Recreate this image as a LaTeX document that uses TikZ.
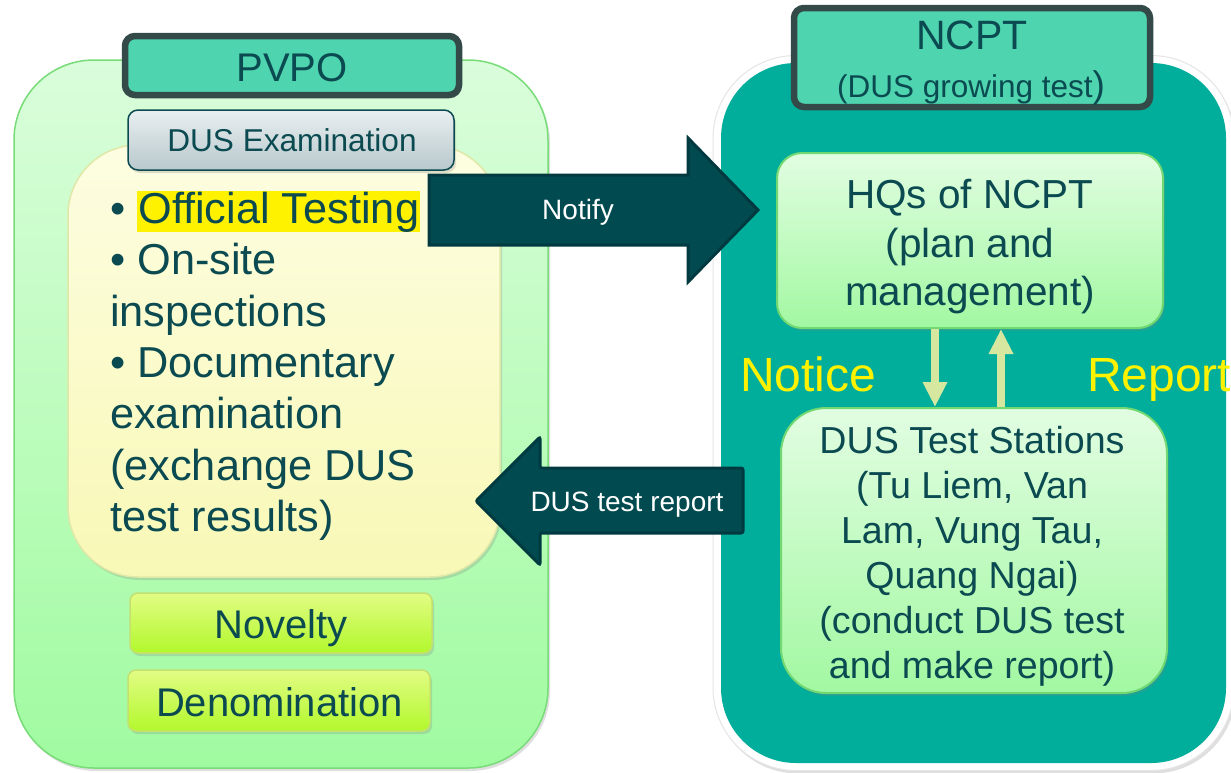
\documentclass[tikz,border=0pt]{standalone}
\usepackage{fontspec}
\setmainfont{Liberation Sans}
\usetikzlibrary{arrows.meta,shadows}
\definecolor{txt}{HTML}{0A4A50}
\definecolor{ttl}{HTML}{4ED4AE}
\definecolor{ttlb}{HTML}{334A48}
\definecolor{teal}{HTML}{00AE9B}
\definecolor{blk}{HTML}{004A50}
\definecolor{blkb}{HTML}{003A40}
\definecolor{noteclr}{HTML}{D6E8A0}
\newcommand\hlbox[1]{{\setlength{\fboxsep}{0pt}\colorbox{yellow}{\rule[-7pt]{0pt}{39pt}\kern1pt#1\kern1pt}}}
\begin{document}
\begin{tikzpicture}[x=1pt,y=-1pt,
  box/.style={rectangle, inner sep=0pt},
  shad/.style={drop shadow={opacity=0.25, shadow xshift=2pt, shadow yshift=-3pt}},
  titlebox/.style={box, fill=ttl, draw=ttlb, line width=6.5pt, rounded corners=10pt, shad},
  hqbox/.style={box, top color=HQtop, bottom color=HQbot, draw=HQdraw, line width=2pt, shad},
  limebox/.style={box, top color=LIMtop, bottom color=LIMbot, draw=LIMdraw, line width=1.5pt, rounded corners=8pt, shad},
  blockarrow/.style={fill=blk, draw=blkb, line width=3pt, line join=miter},
  notearrow/.style={draw=noteclr, line width=8pt, -{Triangle[width=23pt,length=25pt]}},
  bigtxt/.style={font=\fontsize{43.3}{51}\selectfont, text=txt, inner sep=0pt, anchor=base west},
  lbl/.style={font=\fontsize{28}{32}\selectfont, text=white, inner sep=0pt, anchor=base},
  plain/.style={inner sep=0pt, text=txt, anchor=base},
]
\definecolor{HQtop}{HTML}{E2FDE2}
\definecolor{HQbot}{HTML}{A2F8A2}
\definecolor{HQdraw}{HTML}{72D872}
\definecolor{LIMtop}{HTML}{E2FC84}
\definecolor{LIMbot}{HTML}{B2F82C}
\definecolor{LIMdraw}{HTML}{C4E070}
\definecolor{LEFTtop}{HTML}{DAFDDB}
\definecolor{LEFTbot}{HTML}{A0FBA0}
\definecolor{LEFTdraw}{HTML}{78DC78}
\definecolor{YELtop}{HTML}{FDFDE2}
\definecolor{YELbot}{HTML}{F8F8B6}
\definecolor{YELdraw}{HTML}{E0E8A8}
\definecolor{EXtop}{HTML}{E9EFF1}
\definecolor{EXbot}{HTML}{B8C8CC}
\useasboundingbox (0,0) rectangle (1231,772);
\fill[white] (0,0) rectangle (1231,772);

% ---------- left side ----------
\node[box, minimum width=534pt, minimum height=708pt, rounded corners=80pt,
      top color=LEFTtop, bottom color=LEFTbot, draw=LEFTdraw, line width=1.5pt, shad] (pvpoArea) at (281,414) {};
\node[box, minimum width=432pt, minimum height=432pt, rounded corners=70pt,
      top color=YELtop, bottom color=YELbot, draw=YELdraw, line width=1.5pt, shad] (yel) at (284,361) {};
\node[box, minimum width=326pt, minimum height=60pt, rounded corners=10pt,
      top color=EXtop, bottom color=EXbot, draw=txt, line width=1.5pt, shad] (exam) at (291,140) {};
\node[plain, font=\fontsize{31.6}{34}\selectfont] (examT) at (292,151) {DUS Examination};
\node[titlebox, minimum width=334pt, minimum height=59pt] (pvpo) at (292,65.5) {};
\node[plain, font=\fontsize{40}{42}\selectfont] (pvpoT) at (292,81) {PVPO};

\node[bigtxt] (l1) at (110,223) {\textbullet\ \hlbox{Official Testing}};
\node[bigtxt] (l2) at (110,274) {\textbullet\ On-site};
\node[bigtxt] (l3) at (110,326) {inspections};
\node[bigtxt] (l4) at (110,377) {\textbullet\ Documentary};
\node[bigtxt] (l5) at (110,428) {examination};
\node[bigtxt] (l6) at (110,480) {(exchange DUS};
\node[bigtxt] (l7) at (110,531) {test results)};

\node[limebox, minimum width=302pt, minimum height=60pt] (nov) at (281,623) {};
\node[plain, font=\fontsize{40}{42}\selectfont] (novT) at (281,638) {Novelty};
\node[limebox, minimum width=302pt, minimum height=61pt] (den) at (279,700.5) {};
\node[plain, font=\fontsize{40}{42}\selectfont] (denT) at (279.5,716) {Denomination};

% ---------- right side ----------
\node[box, minimum width=521pt, minimum height=715pt, rounded corners=83pt,
      fill=white, draw=black!10, line width=1pt, shad] (ncptOuter) at (973.5,413) {};
\node[box, minimum width=505pt, minimum height=700pt, rounded corners=75pt,
      fill=teal] (ncptArea) at (973.5,413) {};
\node[titlebox, minimum width=356pt, minimum height=99pt] (ncpt) at (972,57.5) {};
\node[plain, font=\fontsize{41}{42}\selectfont] (ncptA) at (972,49) {NCPT};
\node[plain, font=\fontsize{31.5}{34}\selectfont] (ncptB) at (971,97.5) {(DUS growing test{\fontsize{37}{37}\selectfont)}};

\node[hqbox, minimum width=386pt, minimum height=175pt, rounded corners=25pt] (hq) at (970,240.5) {};
\node[align=center, inner sep=0pt, font=\fontsize{40.5}{48.5}\selectfont, text=txt] (hqT) at (970,247)
      {HQs of NCPT\\(plan and\\management)};
\node[hqbox, minimum width=386pt, minimum height=285pt, rounded corners=45pt] (st) at (974,550.5) {};
\node[align=center, inner sep=0pt, font=\fontsize{37.6}{45}\selectfont, text=txt] (stT) at (972,556)
      {DUS Test Stations\\(Tu Liem, Van\\Lam, Vung Tau,\\Quang Ngai)\\(conduct DUS test\\and make report)};

\draw[notearrow] ([xshift=-35pt]hq.south) -- ([xshift=-39pt]st.north);
\draw[notearrow] ([xshift=27pt]st.north) -- ([xshift=31pt]hq.south);
\node[font=\fontsize{48}{50}\selectfont, text=yellow, inner sep=0pt, anchor=base west] (notice) at (740,391) {Notice};
\node[font=\fontsize{48}{50}\selectfont, text=yellow, inner sep=0pt, anchor=base west] (report) at (1087,391) {Report};

% ---------- block arrows ----------
\draw[blockarrow] (429,175) -- (688,175) -- (688,138) -- (758,210) -- (688,282) -- (688,245) -- (429,245) -- cycle;
\node[lbl] (notify) at (578,219) {Notify};
\draw[blockarrow, rounded corners=2pt] (743,468) -- (540,468) -- (540,437) -- (476,501) -- (540,565) -- (540,533) -- (743,533) -- cycle;
\node[lbl] (dtr) at (627,511) {DUS test report};
\end{tikzpicture}
\end{document}
